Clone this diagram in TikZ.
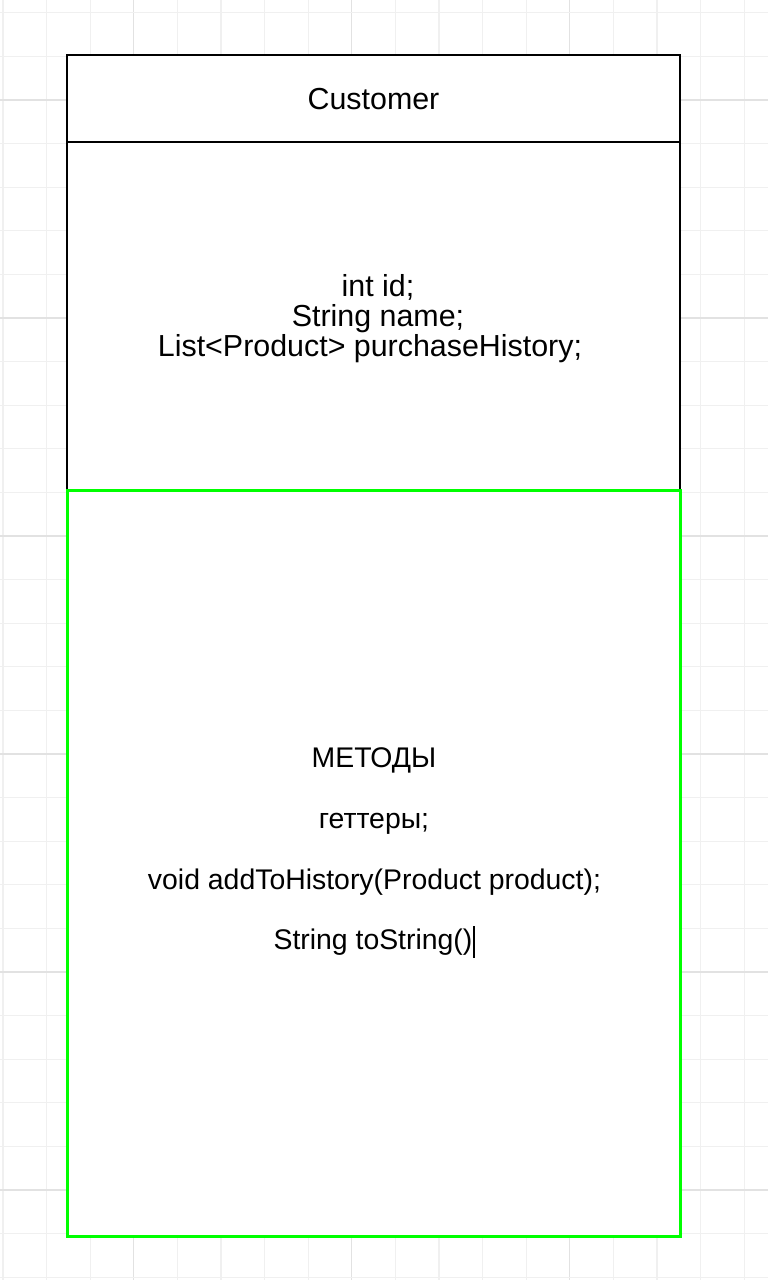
\documentclass[tikz,border=0pt]{standalone}
\usepackage{fontspec}
\setmainfont{Liberation Sans}
\definecolor{gridminor}{HTML}{F0F0F0}
\definecolor{gridmajor}{HTML}{E2E2E2}
\definecolor{methgreen}{HTML}{00FF00}
\tikzset{
  blackpart/.style={draw=black, line width=2pt, fill=white, minimum width=613pt, inner sep=0pt, outer sep=0pt},
  greenpart/.style={draw=methgreen, line width=3pt, fill=white, minimum width=613pt, inner sep=0pt, outer sep=0pt},
  bigtext/.style={anchor=base, inner sep=0pt, font=\fontsize{30.4}{30}\selectfont},
  methtext/.style={anchor=base, inner sep=0pt, font=\fontsize{28.4}{28}\selectfont},
}
\begin{document}
\begin{tikzpicture}[x=1pt,y=-1pt]
\useasboundingbox (0,0) rectangle (768,1280);
\fill[white] (0,0) rectangle (768,1280);
% grid
\foreach \i in {0,...,17}{
  \pgfmathsetmacro{\gx}{3+43.6*\i}
  \pgfmathtruncatemacro{\m}{mod(\i,5)}
  \ifnum\m=3
    \draw[gridmajor, line width=1.2pt] (\gx,0) -- (\gx,1280);
  \else
    \draw[gridminor, line width=1.2pt] (\gx,0) -- (\gx,1280);
  \fi
}
\foreach \j in {0,...,29}{
  \pgfmathsetmacro{\gy}{12.8+43.6*\j}
  \pgfmathtruncatemacro{\m}{mod(\j,5)}
  \ifnum\m=2
    \draw[gridmajor, line width=1.2pt] (0,\gy) -- (768,\gy);
  \else
    \draw[gridminor, line width=1.2pt] (0,\gy) -- (768,\gy);
  \fi
}
% class boxes
\node[blackpart, minimum height=87pt] (header) at (373.5,98.5) {};
\node[blackpart, minimum height=348pt] (attrs) at (373.5,316) {};
\node[greenpart, minimum height=746pt] (methods) at (373.5,863) {};
% texts
\node[bigtext] (title) at (373.5,109) {Customer};
\node[bigtext] (a1) at (378,296) {int id;};
\node[bigtext] (a2) at (378,326) {String name;};
\node[bigtext] (a3) at (370,356) {List<Product> purchaseHistory;};
\node[methtext] (m1) at (374,767) {МЕТОДЫ};
\node[methtext] (m2) at (374,828) {геттеры;};
\node[methtext] (m3) at (374.5,889) {void addToHistory(Product product);};
\node[methtext] (m4) at (373,949) {String toString()};
% text cursor
\coordinate (c1) at ([xshift=1.5pt]m4.base east);
\draw[black, line width=1.5pt] ([yshift=23pt]c1) -- ([yshift=-9pt]c1);
\end{tikzpicture}
\end{document}
